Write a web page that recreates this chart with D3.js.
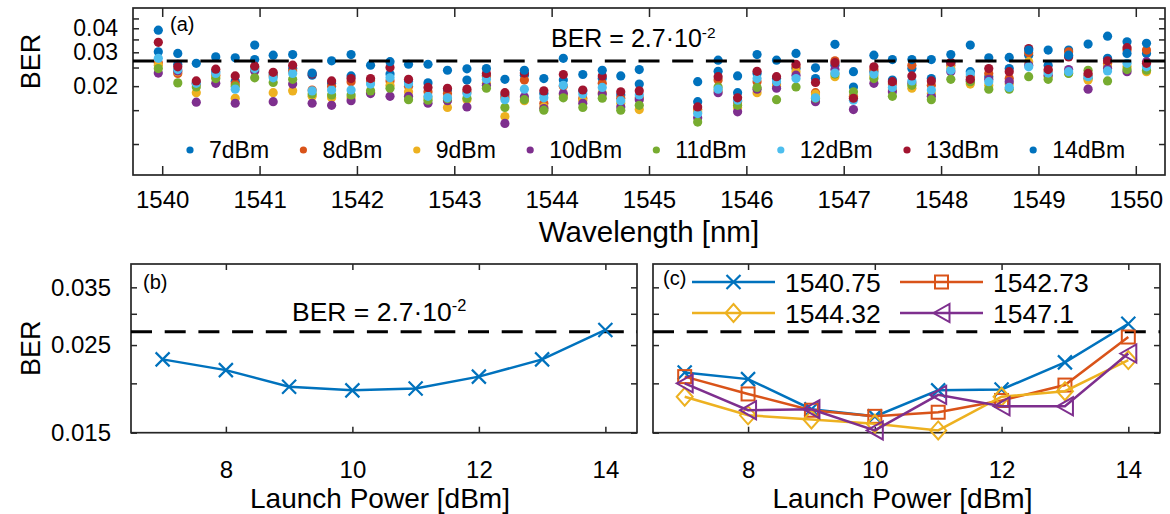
<!DOCTYPE html>
<html>
<head>
<meta charset="utf-8">
<script src="https://cdn.jsdelivr.net/npm/d3@7"></script>
<style>
body { margin: 0; background: #fff; }
text { font-family: "Liberation Sans", Arial, sans-serif; fill: #000; }
</style>
</head>
<body>
<svg id="fig" width="1170" height="514"></svg>
<script>
var w = 1170;
var h = 514;

// ---- data: (a) BER per wavelength, one array per launch power ----
var wavelength = [1539.96, 1540.16, 1540.35, 1540.55, 1540.75, 1540.95, 1541.14, 1541.34, 1541.54, 1541.74,
    1541.94, 1542.14, 1542.34, 1542.53, 1542.73, 1542.93, 1543.13, 1543.33, 1543.52, 1543.72,
    1543.92, 1544.12, 1544.32, 1544.52, 1544.71, 1544.90, 1545.50, 1545.71, 1545.91, 1546.11,
    1546.31, 1546.51, 1546.71, 1546.91, 1547.10, 1547.31, 1547.50, 1547.70, 1547.90, 1548.10,
    1548.30, 1548.49, 1548.70, 1548.90, 1549.10, 1549.31, 1549.51, 1549.71, 1549.91, 1550.11];

var ber7dBm = [0.0302, 0.0260, 0.0208, 0.0238, 0.0212, 0.0275, 0.0231, 0.0247, 0.0228, 0.0207,
    0.0226, 0.0215, 0.0231, 0.0211, 0.0208, 0.0191, 0.0215, 0.0228, 0.0180, 0.0228,
    0.0183, 0.0215, 0.0189, 0.0219, 0.0180, 0.0205, 0.0166, 0.0239, 0.0185, 0.0233,
    0.0219, 0.0247, 0.0219, 0.0257, 0.0198, 0.0238, 0.0215, 0.0247, 0.0219, 0.0263,
    0.0238, 0.0224, 0.0247, 0.0290, 0.0257, 0.0308, 0.0219, 0.0279, 0.0340, 0.0296];
var ber8dBm = [0.0265, 0.0233, 0.0205, 0.0228, 0.0205, 0.0250, 0.0226, 0.0240, 0.0191, 0.0200,
    0.0211, 0.0213, 0.0213, 0.0200, 0.0187, 0.0183, 0.0187, 0.0224, 0.0174, 0.0215,
    0.0163, 0.0200, 0.0173, 0.0207, 0.0173, 0.0174, 0.0151, 0.0215, 0.0166, 0.0211,
    0.0205, 0.0252, 0.0185, 0.0271, 0.0177, 0.0244, 0.0205, 0.0257, 0.0202, 0.0257,
    0.0224, 0.0233, 0.0219, 0.0298, 0.0240, 0.0302, 0.0228, 0.0263, 0.0308, 0.0308];
var ber9dBm = [0.0257, 0.0238, 0.0185, 0.0224, 0.0173, 0.0244, 0.0185, 0.0189, 0.0177, 0.0174,
    0.0174, 0.0186, 0.0202, 0.0187, 0.0174, 0.0155, 0.0170, 0.0207, 0.0139, 0.0168,
    0.0156, 0.0180, 0.0169, 0.0185, 0.0163, 0.0151, 0.0147, 0.0189, 0.0155, 0.0185,
    0.0200, 0.0238, 0.0182, 0.0224, 0.0174, 0.0226, 0.0191, 0.0195, 0.0183, 0.0247,
    0.0205, 0.0202, 0.0205, 0.0268, 0.0224, 0.0234, 0.0215, 0.0252, 0.0252, 0.0238];
var ber10dBm = [0.0234, 0.0240, 0.0165, 0.0207, 0.0163, 0.0240, 0.0166, 0.0205, 0.0163, 0.0159,
    0.0168, 0.0183, 0.0177, 0.0177, 0.0163, 0.0168, 0.0156, 0.0202, 0.0128, 0.0176,
    0.0153, 0.0183, 0.0163, 0.0182, 0.0156, 0.0170, 0.0137, 0.0185, 0.0147, 0.0193,
    0.0195, 0.0228, 0.0166, 0.0244, 0.0151, 0.0207, 0.0187, 0.0208, 0.0177, 0.0238,
    0.0213, 0.0217, 0.0211, 0.0257, 0.0228, 0.0244, 0.0193, 0.0247, 0.0238, 0.0268];
var ber11dBm = [0.0247, 0.0208, 0.0198, 0.0219, 0.0200, 0.0221, 0.0209, 0.0217, 0.0182, 0.0180,
    0.0180, 0.0189, 0.0195, 0.0170, 0.0169, 0.0172, 0.0173, 0.0195, 0.0155, 0.0170,
    0.0150, 0.0174, 0.0155, 0.0173, 0.0150, 0.0159, 0.0130, 0.0198, 0.0159, 0.0197,
    0.0170, 0.0198, 0.0173, 0.0231, 0.0187, 0.0219, 0.0177, 0.0202, 0.0170, 0.0217,
    0.0211, 0.0193, 0.0193, 0.0224, 0.0217, 0.0233, 0.0242, 0.0213, 0.0244, 0.0242];
var ber12dBm = [0.0279, 0.0244, 0.0207, 0.0233, 0.0193, 0.0247, 0.0221, 0.0233, 0.0189, 0.0191,
    0.0191, 0.0205, 0.0221, 0.0205, 0.0177, 0.0174, 0.0183, 0.0217, 0.0170, 0.0193,
    0.0174, 0.0202, 0.0182, 0.0197, 0.0168, 0.0180, 0.0144, 0.0193, 0.0169, 0.0219,
    0.0211, 0.0219, 0.0174, 0.0234, 0.0169, 0.0231, 0.0197, 0.0213, 0.0191, 0.0242,
    0.0231, 0.0211, 0.0197, 0.0252, 0.0234, 0.0238, 0.0224, 0.0240, 0.0263, 0.0252];
var ber13dBm = [0.0338, 0.0252, 0.0213, 0.0245, 0.0226, 0.0254, 0.0236, 0.0257, 0.0231, 0.0213,
    0.0219, 0.0219, 0.0250, 0.0217, 0.0197, 0.0195, 0.0193, 0.0233, 0.0185, 0.0234,
    0.0189, 0.0230, 0.0191, 0.0226, 0.0187, 0.0189, 0.0156, 0.0224, 0.0174, 0.0239,
    0.0224, 0.0260, 0.0209, 0.0265, 0.0173, 0.0252, 0.0211, 0.0226, 0.0213, 0.0266,
    0.0217, 0.0247, 0.0238, 0.0314, 0.0244, 0.0284, 0.0233, 0.0271, 0.0317, 0.0263];
var ber14dBm = [0.0391, 0.0296, 0.0263, 0.0284, 0.0281, 0.0327, 0.0290, 0.0292, 0.0234, 0.0271,
    0.0292, 0.0257, 0.0268, 0.0260, 0.0260, 0.0242, 0.0246, 0.0247, 0.0217, 0.0242,
    0.0219, 0.0279, 0.0230, 0.0242, 0.0226, 0.0244, 0.0211, 0.0273, 0.0226, 0.0292,
    0.0273, 0.0296, 0.0249, 0.0330, 0.0238, 0.0290, 0.0275, 0.0275, 0.0275, 0.0292,
    0.0327, 0.0281, 0.0282, 0.0308, 0.0308, 0.0290, 0.0331, 0.0364, 0.0296, 0.0334];
var powerNames = ["7dBm", "8dBm", "9dBm", "10dBm", "11dBm", "12dBm", "13dBm", "14dBm"];

// ---- data: (b) average BER and (c) selected channels vs launch power ----
var launchPower = [7, 8, 9, 10, 11, 12, 13, 14];
var berAverage = [0.0230, 0.0216, 0.0196, 0.0192, 0.0194, 0.0208, 0.0230, 0.0273];
var ber1540_75 = [0.0213, 0.0205, 0.0172, 0.0165, 0.0192, 0.0193, 0.0226, 0.0283];
var ber1542_73 = [0.0208, 0.0188, 0.0171, 0.0165, 0.0169, 0.0181, 0.0198, 0.0262];
var ber1544_32 = [0.0185, 0.0166, 0.0162, 0.0158, 0.0152, 0.0185, 0.0191, 0.0229];
var ber1547_1 = [0.0200, 0.0171, 0.0172, 0.0152, 0.0187, 0.0175, 0.0175, 0.0238];
var channelNames = ["1540.75", "1542.73", "1544.32", "1547.1"];
var berLimit = 0.027;

// ---- ticks ----
var wlTicks = [1540, 1541, 1542, 1543, 1544, 1545, 1546, 1547, 1548, 1549, 1550];
var berTicksA = [0.01, 0.015, 0.02, 0.025, 0.03, 0.035, 0.04, 0.045];
var berLabelsA = [0.02, 0.03, 0.04];
var powerTicks = [8, 10, 12, 14];
var berTicksB = [0.015, 0.02, 0.025, 0.03, 0.035];
var berLabelsB = [0.015, 0.025, 0.035];

var color = ["#0072BD", "#D95319", "#EDB120", "#7E2F8E", "#77AC30", "#4DBEEE", "#A2142F", "#0072BD"];
var axisColor = "#262626";

var svg = d3.select("#fig");

function styleAxis(g, size) {
    g.select(".domain").remove();
    g.selectAll("line").attr("stroke", axisColor).attr("stroke-width", 1.5);
    g.selectAll("text").attr("font-size", size).attr("fill", "#000")
        .attr("font-family", "'Liberation Sans', Arial, sans-serif");
}

function frame(l, t, r, b) {
    svg.append("rect")
        .attr("x", l).attr("y", t)
        .attr("width", r - l).attr("height", b - t)
        .attr("fill", "none")
        .attr("stroke", axisColor)
        .attr("stroke-width", 1.7);
}

function limitText(x, y, size) {
    var t = svg.append("text").attr("x", x).attr("y", y).attr("font-size", size);
    t.append("tspan").text("BER = 2.7\u00b710");
    t.append("tspan").attr("dy", -size * 0.38).attr("font-size", size * 0.62).text("-2");
}

// ================= (a) =================
var aL = 133, aR = 1165, aT = 8, aB = 175;
var xA = d3.scaleLinear().domain([1539.7, 1550.3]).range([aL, aR]);
var yA = d3.scaleLog().domain([0.0069, 0.051]).range([aB, aT]);

frame(aL, aT, aR, aB);
svg.append("g").attr("transform", "translate(0," + aB + ")")
    .call(d3.axisBottom(xA).tickValues(wlTicks).tickSize(-9).tickPadding(16).tickFormat(d3.format("d")))
    .call(styleAxis, 24);
svg.append("g").attr("transform", "translate(0," + aT + ")")
    .call(d3.axisTop(xA).tickValues(wlTicks).tickSize(-9).tickFormat(""))
    .call(styleAxis, 24);
svg.append("g").attr("transform", "translate(" + aL + ",0)")
    .call(d3.axisLeft(yA).tickValues(berTicksA).tickSize(-6).tickPadding(15)
        .tickFormat((d) => berLabelsA.indexOf(d) >= 0 ? d3.format(".2f")(d) : ""))
    .call(styleAxis, 23);
svg.append("g").attr("transform", "translate(" + aR + ",0)")
    .call(d3.axisRight(yA).tickValues(berTicksA).tickSize(-6).tickFormat(""))
    .call(styleAxis, 24);

var seriesA = [ber7dBm, ber8dBm, ber9dBm, ber10dBm, ber11dBm, ber12dBm, ber13dBm, ber14dBm];
seriesA.forEach((vals, i) => {
    svg.append("g").selectAll("circle")
        .data(vals)
        .enter()
        .append("circle")
        .attr("cx", (d, j) => xA(wavelength[j]))
        .attr("cy", (d) => yA(d))
        .attr("r", 4.6)
        .attr("fill", color[i]);
});

svg.append("line")
    .attr("x1", aL).attr("x2", aR)
    .attr("y1", yA(berLimit)).attr("y2", yA(berLimit))
    .attr("stroke", "#000").attr("stroke-width", 3)
    .attr("stroke-dasharray", "21,12.7");
limitText(551, 47, 25);

svg.append("text").attr("x", 170).attr("y", 31)
    .attr("font-family", "'Liberation Serif', 'Times New Roman', serif")
    .attr("font-size", 20).text("(a)");

// legend
var lx = 190;
powerNames.forEach((name, i) => {
    svg.append("circle").attr("cx", lx).attr("cy", 150).attr("r", 3.6).attr("fill", color[i]);
    var t = svg.append("text").attr("x", lx + 19).attr("y", 158).attr("font-size", 23).text(name);
    lx += 19 + t.node().getComputedTextLength() + 34.3;
});

svg.append("text").attr("x", xA(1545)).attr("y", 242)
    .attr("text-anchor", "middle").attr("font-size", 29.5).text("Wavelength [nm]");
svg.append("text").attr("transform", "translate(40," + ((aT + aB) / 2 - 30) + ") rotate(-90)")
    .attr("text-anchor", "middle").attr("font-size", 27).text("BER");

// ================= (b) and (c) shared =================
var pT = 264, pB = 432.7;
var yP = d3.scaleLog().domain([0.015, 0.0401]).range([pB, pT]);

function powerAxes(l, r, xs, withLabels) {
    frame(l, pT, r, pB);
    svg.append("g").attr("transform", "translate(0," + pB + ")")
        .call(d3.axisBottom(xs).tickValues(powerTicks).tickSize(-6).tickPadding(28))
        .call(styleAxis, 24);
    svg.append("g").attr("transform", "translate(0," + pT + ")")
        .call(d3.axisTop(xs).tickValues(powerTicks).tickSize(-6).tickFormat(""))
        .call(styleAxis, 24);
    svg.append("g").attr("transform", "translate(" + l + ",0)")
        .call(d3.axisLeft(yP).tickValues(berTicksB).tickSize(-6).tickPadding(20)
            .tickFormat((d) => withLabels && berLabelsB.indexOf(d) >= 0 ? d3.format(".3f")(d) : ""))
        .call(styleAxis, 24);
    svg.append("g").attr("transform", "translate(" + r + ",0)")
        .call(d3.axisRight(yP).tickValues(berTicksB).tickSize(-6).tickFormat(""))
        .call(styleAxis, 24);
    svg.append("line")
        .attr("x1", l).attr("x2", r)
        .attr("y1", yP(berLimit)).attr("y2", yP(berLimit))
        .attr("stroke", "#000").attr("stroke-width", 3)
        .attr("stroke-dasharray", "21,12.7");
    svg.append("text").attr("x", (l + r) / 2 - 4).attr("y", 508)
        .attr("text-anchor", "middle").attr("font-size", 28).text("Launch Power [dBm]");
}

// marker shapes
function drawMarker(g, kind, cx, cy, c) {
    if (kind === "x") {
        g.append("path").attr("d", "M" + (cx - 7) + "," + (cy - 7) + "L" + (cx + 7) + "," + (cy + 7) +
            "M" + (cx - 7) + "," + (cy + 7) + "L" + (cx + 7) + "," + (cy - 7))
            .attr("stroke", c).attr("stroke-width", 2.2).attr("fill", "none");
    } else if (kind === "square") {
        g.append("rect").attr("x", cx - 6.5).attr("y", cy - 6.5).attr("width", 13).attr("height", 13)
            .attr("stroke", c).attr("stroke-width", 2).attr("fill", "none");
    } else if (kind === "diamond") {
        g.append("path").attr("d", "M" + cx + "," + (cy - 9) + "L" + (cx + 8) + "," + cy + "L" + cx + "," + (cy + 9) +
            "L" + (cx - 8) + "," + cy + "Z")
            .attr("stroke", c).attr("stroke-width", 2).attr("fill", "none");
    } else {
        g.append("path").attr("d", "M" + (cx - 8) + "," + cy + "L" + (cx + 8) + "," + (cy - 9) + "L" + (cx + 8) + "," + (cy + 9) + "Z")
            .attr("stroke", c).attr("stroke-width", 2).attr("fill", "none");
    }
}

function drawSeries(xs, vals, kind, c) {
    var line = d3.line().x((d, i) => xs(launchPower[i])).y((d) => yP(d));
    svg.append("path").datum(vals)
        .attr("d", line)
        .attr("fill", "none")
        .attr("stroke", c)
        .attr("stroke-width", 2.5);
    var g = svg.append("g");
    vals.forEach((d, i) => drawMarker(g, kind, xs(launchPower[i]), yP(d), c));
}

// ================= (b) =================
var bL = 131, bR = 637;
var xB = d3.scaleLinear().domain([6.5, 14.5]).range([bL, bR]);
powerAxes(bL, bR, xB, true);
drawSeries(xB, berAverage, "x", color[0]);
limitText(292, 321, 26.5);
svg.append("text").attr("x", 143).attr("y", 289)
    .attr("font-family", "'Liberation Serif', 'Times New Roman', serif")
    .attr("font-size", 20).text("(b)");
svg.append("text").attr("transform", "translate(40," + ((pT + pB) / 2) + ") rotate(-90)")
    .attr("text-anchor", "middle").attr("font-size", 27).text("BER");

// ================= (c) =================
var cL = 653, cR = 1160;
var xC = d3.scaleLinear().domain([6.5, 14.5]).range([cL, cR]);
powerAxes(cL, cR, xC, false);
var seriesC = [ber1540_75, ber1542_73, ber1544_32, ber1547_1];
var kinds = ["x", "square", "diamond", "triangle"];
var colorC = [color[0], color[1], color[2], color[3]];
seriesC.forEach((vals, i) => drawSeries(xC, vals, kinds[i], colorC[i]));

svg.append("text").attr("x", 663).attr("y", 285)
    .attr("font-family", "'Liberation Serif', 'Times New Roman', serif")
    .attr("font-size", 20).text("(c)");

// legend (c): two columns, two rows
var legC = svg.append("g");
channelNames.forEach((name, i) => {
    var lx0 = i % 2 === 0 ? 692 : 900;
    var ly = i < 2 ? 282 : 313;
    legC.append("line").attr("x1", lx0).attr("x2", lx0 + 83).attr("y1", ly).attr("y2", ly)
        .attr("stroke", colorC[i]).attr("stroke-width", 2.5);
    drawMarker(legC, kinds[i], lx0 + 41.5, ly, colorC[i]);
    legC.append("text").attr("x", lx0 + 93).attr("y", ly + 9.5).attr("font-size", 26.5).text(name);
});
</script>
</body>
</html>
